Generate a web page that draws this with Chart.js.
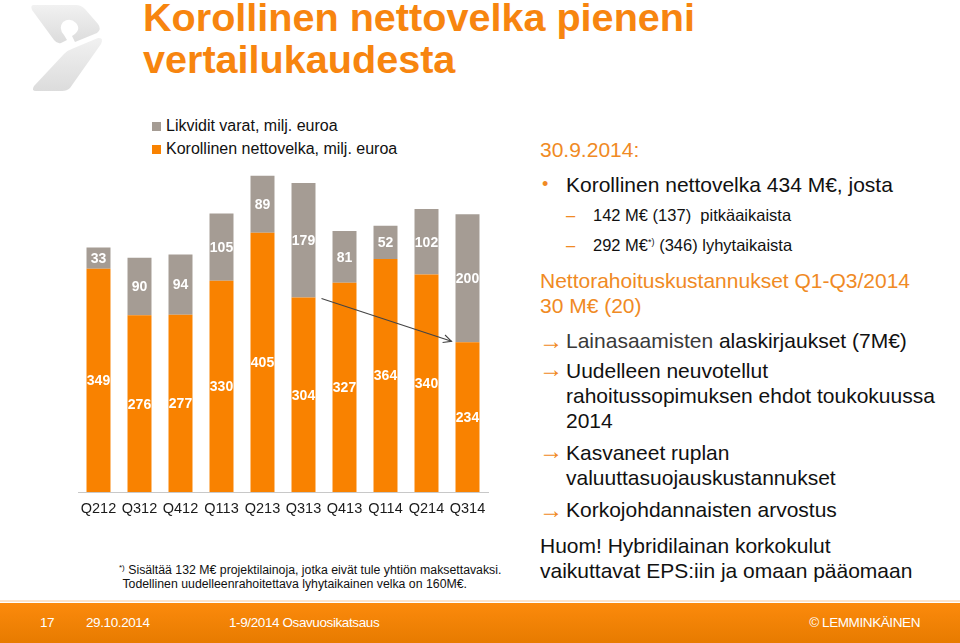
<!DOCTYPE html>
<html><head><meta charset="utf-8">
<script src="https://cdn.jsdelivr.net/npm/chart.js@4"></script>
<style>
html,body{margin:0;padding:0;background:#fff;width:960px;height:643px;overflow:hidden;font-family:"Liberation Sans",Arial,Helvetica,sans-serif;}
.abs{position:absolute;white-space:nowrap;}
#title{left:143px;top:-4px;font-size:39.6px;font-weight:bold;color:#F7850F;line-height:42px;}
.leg{left:152px;font-size:16px;color:#111;}
.leg span{display:inline-block;width:9px;height:9px;margin-right:5px;vertical-align:0px;}
.r{font-size:21px;color:#111;}
.o{color:#F08A24;}
.s{font-size:16.5px;color:#111;}
.dash{color:#F08A24;position:absolute;left:-27px;}
.arr{color:#F08A24;position:absolute;left:-27px;top:-2px;font-size:24px;}
#footer{left:0;top:603px;width:960px;height:40px;background:linear-gradient(#FC8A0C,#E77B00);}
#footline{left:0;top:600px;width:960px;height:2px;background:#FBE3CB;}
.f{color:#fff;font-family:"Liberation Sans",Arial,sans-serif;font-size:13.5px;letter-spacing:-0.4px;top:615px;}
</style></head>
<body>
<svg class="abs" style="left:28px;top:0px" width="80" height="95" viewBox="0 0 80 95">
  <defs><linearGradient id="lg" x1="0" y1="0" x2="0" y2="1"><stop offset="0" stop-color="#f1f1f1"/><stop offset="1" stop-color="#dcdcdc"/></linearGradient></defs>
  <path d="M6,5 L48,5 Q53,5 57,9 L70,24 Q74,29 69,33 L47,42 L44,36 Q54,30 48,23 Q42,17 35,22 Q30,28 36,35 L39,40 L33,43 Q29,44 26,40 L4,10 Q2,5 6,5 Z" fill="url(#lg)"/>
  <path d="M70,38 Q76,37 73,44 L42,88 Q39,91 34,91 L8,91 Q3,91 6,86 L36,54 Q40,50 46,48 Z" fill="url(#lg)"/>
</svg>
<div id="title" class="abs">Korollinen nettovelka pieneni<br>vertailukaudesta</div>

<div class="abs leg" style="top:117px"><span style="background:#A59C94"></span>Likvidit varat, milj. euroa</div>
<div class="abs leg" style="top:140px"><span style="background:#F98200"></span>Korollinen nettovelka, milj. euroa</div>

<div class="abs" style="left:70px;top:142px;width:430px;height:380px;"><canvas id="c" width="430" height="380"></canvas></div>

<div class="abs" style="left:119px;top:561px;font-size:12.3px;color:#111;line-height:14px;"><sup style="font-size:8px;vertical-align:4px">*)</sup> Sisältää 132 M€ projektilainoja, jotka eivät tule yhtiön maksettavaksi.<br>&nbsp;Todellinen uudelleenrahoitettava lyhytaikainen velka on 160M€.</div>

<div class="abs r o" style="left:540px;top:138px;">30.9.2014:</div>
<div class="abs r" style="left:566px;top:173px;"><span class="o" style="position:absolute;left:-24px;font-size:18px;top:1px">•</span>Korollinen nettovelka 434 M€, josta</div>
<div class="abs s" style="left:593px;top:206px;"><span class="dash">–</span>142 M€ (137)&nbsp; pitkäaikaista</div>
<div class="abs s" style="left:593px;top:236px;"><span class="dash">–</span>292 M€<sup style="font-size:9px;vertical-align:6px">*)</sup> (346) lyhytaikaista</div>
<div class="abs r o" style="left:540px;top:268px;line-height:25px;">Nettorahoituskustannukset Q1-Q3/2014<br>30 M€ (20)</div>
<div class="abs r" style="left:566px;top:329px;"><span class="arr">→</span><span style="color:#3a3a3a">Lainasaamisten</span> alaskirjaukset (7M€)</div>
<div class="abs r" style="left:566px;top:358px;line-height:25px;"><span class="arr">→</span>Uudelleen neuvotellut<br>rahoitussopimuksen ehdot toukokuussa<br>2014</div>
<div class="abs r" style="left:566px;top:440px;line-height:25px;"><span class="arr">→</span>Kasvaneet ruplan<br>valuuttasuojauskustannukset</div>
<div class="abs r" style="left:566px;top:498px;"><span class="arr">→</span>Korkojohdannaisten arvostus</div>
<div class="abs r" style="left:540px;top:533px;line-height:25px;">Huom! Hybridilainan korkokulut<br>vaikuttavat EPS:iin ja omaan pääomaan</div>

<div id="footline" class="abs"></div>
<div id="footer" class="abs"></div>
<div class="abs f" style="left:40px;">17</div>
<div class="abs f" style="left:86px;">29.10.2014</div>
<div class="abs f" style="left:229px;">1-9/2014 Osavuosikatsaus</div>
<div class="abs f" style="right:40px;">© LEMMINKÄINEN</div>

<script>
const categories = ["Q212","Q312","Q412","Q113","Q213","Q313","Q413","Q114","Q214","Q314"];
const netDebt = [349,276,277,330,405,304,327,364,340,234];
const liquidAssets = [33,90,94,105,89,179,81,52,102,200];
const seriesNames = ["Korollinen nettovelka, milj. euroa","Likvidit varat, milj. euroa"];

const labelPlugin = {
  id:'segLabels',
  afterDatasetsDraw(chart){
    const ctx = chart.ctx;
    ctx.save();
    ctx.fillStyle = '#fff';
    ctx.font = 'bold 14px "Liberation Sans", Arial, sans-serif';
    ctx.textAlign = 'center';
    ctx.textBaseline = 'middle';
    chart.data.datasets.forEach((ds,i)=>{
      const meta = chart.getDatasetMeta(i);
      meta.data.forEach((el,j)=>{
        ctx.fillText(String(ds.data[j]), el.x, (el.y+el.base)/2+1);
      });
    });
    ctx.restore();
  }
};
const arrowPlugin = {
  id:'trendArrow',
  afterDatasetsDraw(chart){
    const meta = chart.getDatasetMeta(0);
    const a = meta.data[5], b = meta.data[9];
    const ys = chart.scales.y;
    const x1 = a.x + a.width/2 + 6, y1 = ys.getPixelForValue(netDebt[5]) + 1;
    const x2 = b.x - b.width/2 - 4, y2 = ys.getPixelForValue(netDebt[9]) - 1;
    const ctx = chart.ctx;
    ctx.save();
    ctx.strokeStyle = '#444';
    ctx.lineWidth = 1.1;
    ctx.beginPath(); ctx.moveTo(x1,y1); ctx.lineTo(x2,y2); ctx.stroke();
    const ang = Math.atan2(y2-y1, x2-x1);
    const L = 9;
    ctx.beginPath();
    ctx.moveTo(x2 - L*Math.cos(ang-0.45), y2 - L*Math.sin(ang-0.45));
    ctx.lineTo(x2,y2);
    ctx.lineTo(x2 - L*Math.cos(ang+0.45), y2 - L*Math.sin(ang+0.45));
    ctx.stroke();
    ctx.restore();
  }
};

new Chart(document.getElementById('c'), {
  type:'bar',
  data:{
    labels:categories,
    datasets:[
      {label:seriesNames[0], data:netDebt, backgroundColor:'#F98200', barPercentage:0.585, categoryPercentage:1},
      {label:seriesNames[1], data:liquidAssets, backgroundColor:'#A59C94', barPercentage:0.585, categoryPercentage:1}
    ]
  },
  options:{
    responsive:false,
    animation:false,
    layout:{padding:{left:8,right:12,top:4.4,bottom:0}},
    plugins:{legend:{display:false},tooltip:{enabled:false}},
    scales:{
      x:{stacked:true,
         grid:{display:false,drawTicks:false},
         border:{display:true,color:'#c8c8c8',width:1},
         ticks:{color:'#1a1a1a',padding:8,font:{size:14.5,family:'"Liberation Sans", Arial, sans-serif'},maxRotation:0,autoSkip:false},
         afterFit(s){ s.height = 30; }
      },
      y:{stacked:true,display:false,min:0,max:540}
    }
  },
  plugins:[labelPlugin,arrowPlugin]
});
</script>
</body></html>
